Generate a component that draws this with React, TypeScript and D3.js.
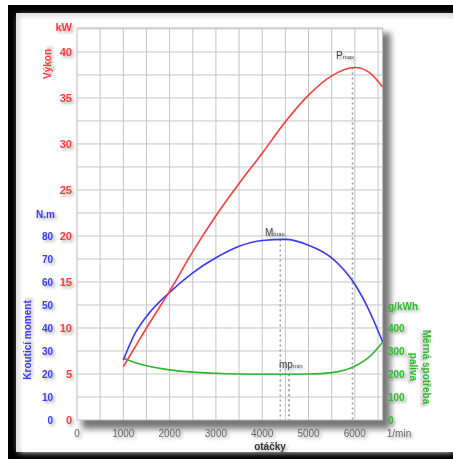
import * as d3 from "d3";

const rpm = [1000, 1250, 1500, 2000, 2500, 3000, 3500, 4000, 4500, 5000, 5500, 6000, 6300, 6600];
const powerKw = [5.8, 7.9, 10, 14, 18.3, 22.2, 25.7, 29, 32.4, 35.3, 37.4, 38.3, 37.8, 36.2];
const torqueNm = [26, 37.5, 45, 55.5, 64, 70.5, 75.5, 78, 78.5, 76, 70.5, 59, 48, 34];
const bsfc = [268, 250, 236, 218, 208, 203, 200, 199, 199, 200, 206, 234, 272, 338];

const rpmTicks = [0, 1000, 2000, 3000, 4000, 5000, 6000];
const kwTicks = [0, 5, 10, 15, 20, 25, 30, 35, 40];
const nmTicks = [0, 10, 20, 30, 40, 50, 60, 70, 80];
const gTicks = [0, 100, 200, 300, 400];

const pMaxRpm = 5950;
const mMaxRpm = 4390;
const mpMinRpm = 4580;

const RED = "#ff3b3b";
const BLUE = "#3a3aff";
const GREEN = "#2fb82f";
const font = "'Liberation Sans', Arial, sans-serif";

export default function App() {
  const x = d3.scaleLinear().domain([0, 6600]).range([77, 382.6]);
  const yKw = d3.scaleLinear().domain([0, 42.6]).range([420, 28]);
  const yNm = d3.scaleLinear().domain([0, 170.4]).range([420, 28]);
  const yG = d3.scaleLinear().domain([0, 1704]).range([420, 28]);

  const line = (ys: number[], y: d3.ScaleLinear<number, number>) =>
    d3
      .line<number>()
      .x((_, i) => x(rpm[i]))
      .y((d) => y(d))
      .curve(d3.curveMonotoneX)(ys) as string;

  const vGrid = d3.range(500, 6600, 500);
  const hGrid = d3.range(2.5, 42.6, 2.5);
  const pMaxKw = 38.3;
  const mMaxNm = 78.5;
  const mpMinG = 199;

  return (
    <svg width={453} height={459} style={{ position: "absolute", left: 0, top: 0 }} fontFamily={font}>
      <defs>
        <filter id="blur" x="-20%" y="-20%" width="140%" height="140%">
          <feGaussianBlur stdDeviation="3" />
        </filter>
        <filter id="ts" x="-30%" y="-30%" width="160%" height="160%">
          <feDropShadow dx="2" dy="2" stdDeviation="1.5" floodColor="#000" floodOpacity="0.35" />
        </filter>
      </defs>
      {/* frame */}
      <rect x={8} y={5} width={445} height={454} fill="#000" />
      <rect x={16} y={13} width={437} height={439} fill="#d8d8d8" />
      <rect x={19} y={16} width={434} height={436} fill="#fff" filter="url(#blur)" />
      <rect x={22} y={19} width={431} height={433} fill="#fff" />

      {/* plot shadow */}
      <rect x={x(0) + 5} y={yKw(42.6) + 5} width={x(6600) - x(0) + 3} height={yKw(0) - yKw(42.6) + 4} fill="#777" filter="url(#blur)" />
      <rect x={x(0)} y={yKw(42.6)} width={x(6600) - x(0)} height={yKw(0) - yKw(42.6)} fill="#fff" stroke="#bbb" strokeWidth={1} />

      {/* grid */}
      {vGrid.map((v) => (
        <line key={"v" + v} x1={x(v)} x2={x(v)} y1={yKw(42.6)} y2={yKw(0)} stroke="#c4c4c4" strokeWidth={1} />
      ))}
      {hGrid.map((v) => (
        <line key={"h" + v} x1={x(0)} x2={x(6600)} y1={yKw(v)} y2={yKw(v)} stroke="#c4c4c4" strokeWidth={1} />
      ))}

      {/* marker verticals */}
      <line x1={x(pMaxRpm)} x2={x(pMaxRpm)} y1={yKw(pMaxKw)} y2={yKw(0)} stroke="#999" strokeWidth={1.5} strokeDasharray="2,3" />
      <line x1={x(mMaxRpm)} x2={x(mMaxRpm)} y1={yNm(mMaxNm)} y2={yKw(0)} stroke="#999" strokeWidth={1.5} strokeDasharray="2,3" />
      <line x1={x(mpMinRpm)} x2={x(mpMinRpm)} y1={yG(mpMinG)} y2={yKw(0)} stroke="#888" strokeWidth={1.5} strokeDasharray="2,3" />

      {/* curves */}
      <path d={line(bsfc, yG)} fill="none" stroke={GREEN} strokeWidth={1.6} />
      <path d={line(torqueNm, yNm)} fill="none" stroke={BLUE} strokeWidth={1.6} />
      <path d={line(powerKw, yKw)} fill="none" stroke={RED} strokeWidth={1.6} />

      {/* marker labels */}
      <g fill="#444" fontSize={10} filter="url(#ts)">
        <text x={336} y={59}>
          P<tspan fontSize={6}>max</tspan>
        </text>
        <text x={265} y={236}>
          M<tspan fontSize={6}>max</tspan>
        </text>
        <text x={279} y={368}>
          mp<tspan fontSize={6}>min</tspan>
        </text>
      </g>

      {/* left red axis */}
      <g fill={RED} fontSize={11} fontWeight="bold" textAnchor="end" filter="url(#ts)">
        {kwTicks.map((t) => (
          <text key={t} x={72} y={yKw(t) + 4}>
            {t}
          </text>
        ))}
        <text x={72} y={31}>kW</text>
      </g>
      <text transform="translate(51,64) rotate(-90)" fill={RED} fontSize={10} fontWeight="bold" textAnchor="middle" filter="url(#ts)">
        Výkon
      </text>

      {/* left blue axis */}
      <g fill={BLUE} fontSize={10} fontWeight="bold" textAnchor="end" filter="url(#ts)">
        {nmTicks.map((t) => (
          <text key={t} x={53} y={yNm(t) + 4}>
            {t}
          </text>
        ))}
        <text x={55} y={218}>N.m</text>
      </g>
      <text transform="translate(31,340) rotate(-90)" fill={BLUE} fontSize={10} fontWeight="bold" textAnchor="middle" filter="url(#ts)">
        Krouticí moment
      </text>

      {/* right green axis */}
      <g fill={GREEN} fontSize={10} fontWeight="bold" filter="url(#ts)">
        {gTicks.map((t) => (
          <text key={t} x={388} y={yG(t) + 4}>
            {t}
          </text>
        ))}
        <text x={388} y={310}>g/kWh</text>
      </g>
      <text transform="translate(423,367) rotate(90)" fill={GREEN} fontSize={10} fontWeight="bold" textAnchor="middle" filter="url(#ts)">
        Měrná spotřeba
      </text>
      <text transform="translate(410,367) rotate(90)" fill={GREEN} fontSize={10} fontWeight="bold" textAnchor="middle" filter="url(#ts)">
        paliva
      </text>

      {/* bottom axis */}
      <g fill="#666" fontSize={10} textAnchor="middle" filter="url(#ts)">
        {rpmTicks.map((t) => (
          <text key={t} x={x(t)} y={437}>
            {t}
          </text>
        ))}
        <text x={399} y={437}>1/min</text>
      </g>
      <text x={270} y={450} fill="#333" fontSize={10} fontWeight="bold" textAnchor="middle" filter="url(#ts)">
        otáčky
      </text>
    </svg>
  );
}
